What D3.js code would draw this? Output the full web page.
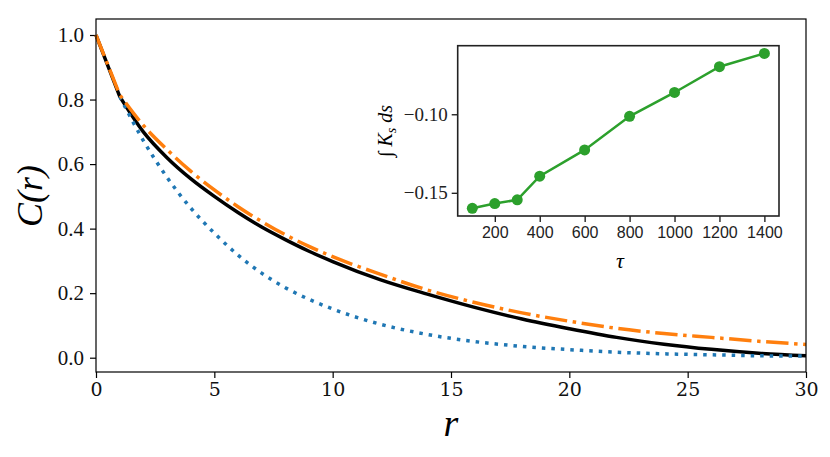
<!DOCTYPE html>
<html lang="en">
<head>
  <meta charset="UTF-8">
  <title>C(r) decay</title>
  <script src="https://d3js.org/d3.v7.min.js"></script>
  <style>
    body { margin: 0; background: #fff; }
    svg { display: block; }
  </style>
</head>
<body>
  <svg id="chart" width="830" height="457"></svg>
  <script>
    // main panel: correlation C(r)
    const rVals = [0, 1, 2, 3, 4, 5, 6, 7, 8, 9, 10, 12, 14, 16, 18, 20, 22, 24, 26, 28, 30];
    const blackC = [1.0, 0.81, 0.70, 0.62, 0.555, 0.50, 0.45, 0.405, 0.366, 0.33, 0.298, 0.242, 0.197, 0.156, 0.12, 0.09, 0.063, 0.042, 0.026, 0.014, 0.006];
    const orangeC = [1.0, 0.815, 0.72, 0.645, 0.578, 0.52, 0.468, 0.422, 0.381, 0.345, 0.313, 0.259, 0.21, 0.171, 0.139, 0.113, 0.091, 0.075, 0.063, 0.051, 0.041];
    const blueR = [1, 2, 3, 4, 5, 6, 7, 8, 9, 10, 12, 14, 16, 18, 20, 22, 24, 26, 28, 30];
    const blueC = [0.81, 0.673, 0.559, 0.464, 0.386, 0.318, 0.262, 0.217, 0.181, 0.151, 0.104, 0.072, 0.05, 0.035, 0.025, 0.017, 0.012, 0.009, 0.006, 0.005];
    const xTicks = [0, 5, 10, 15, 20, 25, 30];
    const yTicks = [0.0, 0.2, 0.4, 0.6, 0.8, 1.0];

    // inset: integral of K_s vs tau
    const tau = [100, 200, 300, 400, 600, 800, 1000, 1200, 1400];
    const kInt = [-0.1599, -0.1569, -0.1545, -0.1394, -0.1227, -0.1013, -0.0861, -0.0697, -0.0612];
    const tauTicks = [200, 400, 600, 800, 1000, 1200, 1400];
    const kTicks = [-0.15, -0.10];

    const svg = d3.select("#chart");

    const x = d3.scaleLinear().domain([0, 30]).range([96, 806]);
    const y = d3.scaleLinear().domain([-0.0443, 1.0496]).range([372, 19]);

    // axes
    const xAxis = svg.append("g")
      .attr("transform", "translate(0,372)")
      .call(d3.axisBottom(x).tickValues(xTicks).tickSize(6).tickSizeOuter(0).tickPadding(5).tickFormat(d3.format("d")));
    const yAxis = svg.append("g")
      .attr("transform", "translate(96,0)")
      .call(d3.axisLeft(y).tickValues(yTicks).tickSize(6).tickSizeOuter(0).tickPadding(6).tickFormat(d3.format(".1f")));
    xAxis.attr("font-family", "DejaVu Serif").attr("font-size", 19);
    yAxis.attr("font-family", "Liberation Serif").attr("font-size", 21);
    [xAxis, yAxis].forEach(a => {
      a.select(".domain").remove();
      a.selectAll("line").attr("stroke", "#000").attr("stroke-width", 1.2);
      a.selectAll("text").attr("fill", "#111");
    });

    // curves
    const pts = (xs, ys) => xs.map((v, i) => [x(v), y(ys[i])]);
    const lin = d3.line();
    const mono = d3.line().curve(d3.curveMonotoneX);
    function kinked(p) {
      // straight first step, smooth after the kink at r = 1
      return lin(p.slice(0, 2)) + mono(p.slice(1)).replace(/^M/, "L");
    }

    const curves = svg.append("g");
    curves.append("path")
      .attr("d", kinked(pts(rVals, blackC)))
      .attr("fill", "none").attr("stroke", "#000").attr("stroke-width", 3.5);
    curves.append("path")
      .attr("d", mono(pts(blueR, blueC)))
      .attr("fill", "none").attr("stroke", "#1f77b4").attr("stroke-width", 3.5)
      .attr("stroke-dasharray", "3.5,6");
    curves.append("path")
      .attr("d", kinked(pts(rVals, orangeC)))
      .attr("fill", "none").attr("stroke", "#ff7f0e").attr("stroke-width", 3.5)
      .attr("stroke-dasharray", "22.4,5.6,3.5,5.6");

    // frame
    svg.append("rect")
      .attr("x", 96).attr("y", 19).attr("width", 710).attr("height", 353)
      .attr("fill", "none").attr("stroke", "#000").attr("stroke-width", 1.2);

    // labels
    svg.append("text")
      .attr("transform", "translate(42,196) rotate(-90)")
      .attr("text-anchor", "middle")
      .attr("font-family", "serif").attr("font-size", 36).attr("font-style", "italic")
      .text("C(r)");
    svg.append("text")
      .attr("x", 451).attr("y", 436)
      .attr("text-anchor", "middle")
      .attr("font-family", "Liberation Serif").attr("font-size", 38).attr("font-style", "italic")
      .text("r");

    // inset
    const ix = d3.scaleLinear().domain([35, 1465]).range([457.7, 779]);
    const iy = d3.scaleLinear().domain([-0.1648, -0.0563]).range([216, 45.7]);

    svg.append("rect")
      .attr("x", 457.7).attr("y", 45.7).attr("width", 779 - 457.7).attr("height", 216 - 45.7)
      .attr("fill", "#fff");

    const ixAxis = svg.append("g")
      .attr("transform", "translate(0,216)")
      .call(d3.axisBottom(ix).tickValues(tauTicks).tickSize(6).tickSizeOuter(0).tickPadding(5).tickFormat(d3.format("d")));
    const iyAxis = svg.append("g")
      .attr("transform", "translate(457.7,0)")
      .call(d3.axisLeft(iy).tickValues(kTicks).tickSize(6).tickSizeOuter(0).tickPadding(4).tickFormat(d3.format(".2f")));
    ixAxis.attr("font-family", "Liberation Sans").attr("font-size", 16);
    iyAxis.attr("font-family", "Liberation Serif").attr("font-size", 19);
    [ixAxis, iyAxis].forEach(a => {
      a.select(".domain").remove();
      a.selectAll("line").attr("stroke", "#000").attr("stroke-width", 1.2);
      a.selectAll("text").attr("fill", "#222");
    });

    svg.append("path")
      .attr("d", lin(tau.map((t, i) => [ix(t), iy(kInt[i])])))
      .attr("fill", "none").attr("stroke", "#2ca02c").attr("stroke-width", 2.5);
    svg.append("g").selectAll("circle")
      .data(tau)
      .join("circle")
      .attr("cx", d => ix(d))
      .attr("cy", (d, i) => iy(kInt[i]))
      .attr("r", 5.5)
      .attr("fill", "#2ca02c");

    svg.append("rect")
      .attr("x", 457.7).attr("y", 45.7).attr("width", 779 - 457.7).attr("height", 216 - 45.7)
      .attr("fill", "none").attr("stroke", "#222").attr("stroke-width", 1.6);

    svg.append("text")
      .attr("x", 620).attr("y", 268)
      .attr("text-anchor", "middle")
      .attr("font-family", "Liberation Serif").attr("font-size", 22).attr("font-style", "italic")
      .text("τ");

    const kl = svg.append("text")
      .attr("transform", "translate(392,131) rotate(-90)")
      .attr("text-anchor", "middle")
      .attr("font-family", "Liberation Serif").attr("font-size", 20).attr("font-style", "italic");
    kl.append("tspan").attr("font-style", "normal").text("∫ ");
    kl.append("tspan").text("K");
    kl.append("tspan").attr("font-size", 14).attr("dy", 4).text("s");
    kl.append("tspan").attr("dy", -4).text(" ds");
  </script>
</body>
</html>
